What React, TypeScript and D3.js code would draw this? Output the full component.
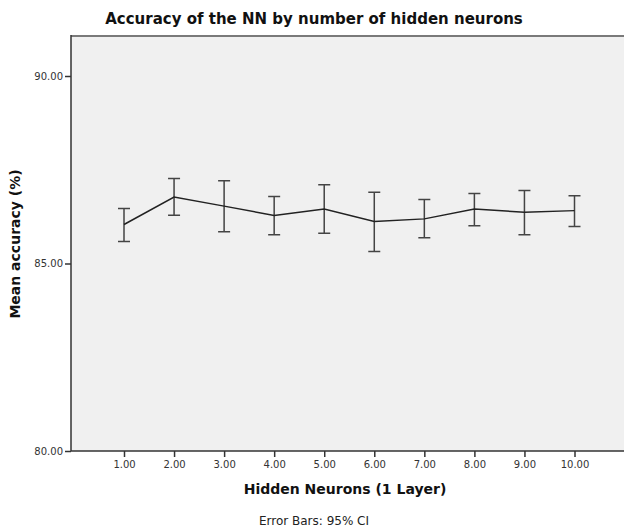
import React, { useEffect, useRef } from "react";
import * as d3 from "d3";

const neurons = [1, 2, 3, 4, 5, 6, 7, 8, 9, 10];
const meanAcc = [86.04, 86.77, 86.53, 86.28, 86.45, 86.12, 86.19, 86.45, 86.37, 86.41];
const ciLow = [85.59, 86.29, 85.85, 85.77, 85.81, 85.32, 85.69, 86.01, 85.77, 85.99];
const ciHigh = [86.47, 87.27, 87.21, 86.79, 87.1, 86.9, 86.71, 86.87, 86.95, 86.81];
const yTicks = [80, 85, 90];

const App = () => {
  const svgRef = useRef<SVGSVGElement>(null);

  useEffect(() => {
    const width = 624;
    const height = 529;
    const font = "DejaVu Sans, sans-serif";

    const svg = d3.select(svgRef.current);
    svg.selectAll("*").remove();
    svg.attr("width", width).attr("height", height);

    const plotLeft = 71;
    const plotTop = 35;
    const plotBottom = 451;

    const x = d3.scaleLinear().domain([1, 10]).range([124, 574.5]);
    const y = d3.scaleLinear().domain([80, 90]).range([451, 76]);

    // plot area
    svg
      .append("rect")
      .attr("x", plotLeft)
      .attr("y", plotTop)
      .attr("width", width - plotLeft + 10)
      .attr("height", plotBottom - plotTop)
      .attr("fill", "#f0f0f0");
    svg
      .append("line")
      .attr("x1", plotLeft)
      .attr("x2", width)
      .attr("y1", plotTop + 1)
      .attr("y2", plotTop + 1)
      .attr("stroke", "#7a7a7a")
      .attr("stroke-width", 2);

    // y axis
    const yAxis = svg
      .append("g")
      .attr("transform", `translate(${plotLeft},0)`)
      .call(
        d3
          .axisLeft(y)
          .tickValues(yTicks)
          .tickSize(6)
          .tickPadding(2)
          .tickFormat((d) => d3.format(".2f")(d as number))
      );
    yAxis.select(".domain").attr("d", `M0,${plotTop}V${plotBottom}`);

    // x axis
    const xAxis = svg
      .append("g")
      .attr("transform", `translate(0,${plotBottom})`)
      .call(
        d3
          .axisBottom(x)
          .tickValues(neurons)
          .tickSize(6)
          .tickPadding(4)
          .tickFormat((d) => d3.format(".2f")(d as number))
      );
    xAxis.select(".domain").attr("d", `M${plotLeft},0H${width}`);

    [yAxis, xAxis].forEach((g) => {
      g.selectAll(".domain").attr("stroke", "#333").attr("stroke-width", 1.5);
      g.selectAll(".tick line").attr("stroke", "#333").attr("stroke-width", 1.5);
      g.selectAll(".tick text")
        .attr("fill", "#333")
        .style("font-family", font)
        .style("font-size", "10px");
    });

    // error bars
    const capW = 6;
    const bars = svg.append("g");
    neurons.forEach((n, i) => {
      const cx = x(n);
      bars
        .append("path")
        .attr(
          "d",
          `M${cx},${y(ciLow[i])}V${y(ciHigh[i])}` +
            `M${cx - capW},${y(ciLow[i])}H${cx + capW}` +
            `M${cx - capW},${y(ciHigh[i])}H${cx + capW}`
        )
        .attr("fill", "none")
        .attr("stroke", "#444")
        .attr("stroke-width", 1.5);
    });

    // mean line
    const line = d3
      .line<number>()
      .x((d, i) => x(neurons[i]))
      .y((d) => y(d));
    svg
      .append("path")
      .datum(meanAcc)
      .attr("d", line)
      .attr("fill", "none")
      .attr("stroke", "#222")
      .attr("stroke-width", 1.5);

    // titles
    svg
      .append("text")
      .attr("x", 314)
      .attr("y", 24)
      .attr("text-anchor", "middle")
      .style("font-family", font)
      .style("font-size", "15px")
      .style("font-weight", "bold")
      .attr("fill", "#111")
      .text("Accuracy of the NN by number of hidden neurons");

    svg
      .append("text")
      .attr("x", 345)
      .attr("y", 494)
      .attr("text-anchor", "middle")
      .style("font-family", font)
      .style("font-size", "14px")
      .style("font-weight", "bold")
      .attr("fill", "#111")
      .text("Hidden Neurons (1 Layer)");

    svg
      .append("text")
      .attr("transform", "translate(20,244) rotate(-90)")
      .attr("text-anchor", "middle")
      .style("font-family", font)
      .style("font-size", "14px")
      .style("font-weight", "bold")
      .attr("fill", "#111")
      .text("Mean accuracy (%)");

    svg
      .append("text")
      .attr("x", 314)
      .attr("y", 525)
      .attr("text-anchor", "middle")
      .style("font-family", font)
      .style("font-size", "12px")
      .attr("fill", "#222")
      .text("Error Bars: 95% CI");
  }, []);

  return <svg ref={svgRef} style={{ position: "absolute", left: 0, top: 0 }}></svg>;
};

export default App;
